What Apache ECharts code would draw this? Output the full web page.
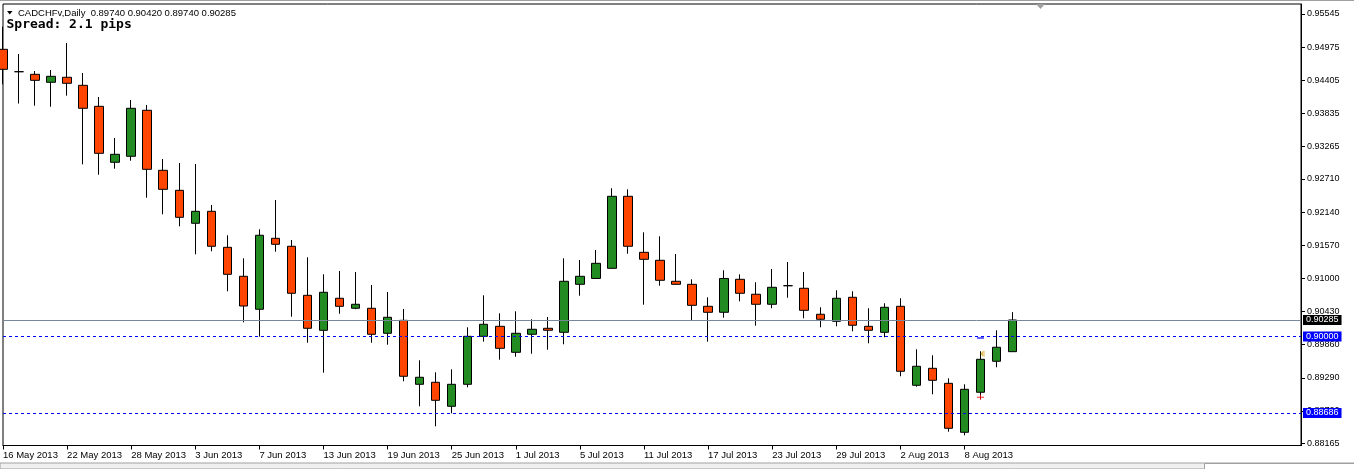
<!DOCTYPE html>
<html><head><meta charset="utf-8">
<script src="https://cdn.jsdelivr.net/npm/echarts@6/dist/echarts.min.js"></script>
<style>html,body{margin:0;padding:0;background:#fff;overflow:hidden}#c{width:1354px;height:469px}</style>
</head><body><div id="c"></div>
<script>
// ---- data ----
const symbolName = 'CADCHFv,Daily';
const spreadText = 'Spread: 2.1 pips';
const dates = ['16 May 2013','17 May 2013','20 May 2013','21 May 2013','22 May 2013','23 May 2013','24 May 2013','27 May 2013','28 May 2013','29 May 2013','30 May 2013','31 May 2013',
  '3 Jun 2013','4 Jun 2013','5 Jun 2013','6 Jun 2013','7 Jun 2013','10 Jun 2013','11 Jun 2013','12 Jun 2013','13 Jun 2013','14 Jun 2013','17 Jun 2013','18 Jun 2013','19 Jun 2013','20 Jun 2013','21 Jun 2013','24 Jun 2013','25 Jun 2013','26 Jun 2013','27 Jun 2013','28 Jun 2013',
  '1 Jul 2013','2 Jul 2013','3 Jul 2013','4 Jul 2013','5 Jul 2013','8 Jul 2013','9 Jul 2013','10 Jul 2013','11 Jul 2013','12 Jul 2013','15 Jul 2013','16 Jul 2013','17 Jul 2013','18 Jul 2013','19 Jul 2013','22 Jul 2013','23 Jul 2013','24 Jul 2013','25 Jul 2013','26 Jul 2013','29 Jul 2013','30 Jul 2013','31 Jul 2013',
  '1 Aug 2013','2 Aug 2013','5 Aug 2013','6 Aug 2013','7 Aug 2013','8 Aug 2013','9 Aug 2013','12 Aug 2013','13 Aug 2013'];
const opens = [0.94938,0.94553,0.94508,0.94371,0.94457,0.94319,0.93958,0.92996,0.93099,0.93890,0.92858,0.92514,
  0.91947,0.92153,0.91534,0.91036,0.90469,0.91689,0.91552,0.90709,0.90107,0.90658,0.90486,0.90486,0.90056,0.90279,0.89179,0.89214,0.88801,0.89179,0.90004,0.90176,
  0.89729,0.90039,0.90142,0.90073,0.90898,0.90999,0.91173,0.92411,0.91448,0.91311,0.90950,0.90898,0.90520,0.90417,0.90984,0.90727,0.90555,0.90874,0.90830,0.90383,0.90262,0.90675,0.90176,
  0.90073,0.90520,0.89162,0.89454,0.89196,0.88354,0.89042,0.89575,0.89740];
const highs = [0.95327,0.94857,0.94565,0.94582,0.95046,0.94531,0.94118,0.93413,0.94067,0.93981,0.93052,0.92984,
  0.92966,0.92262,0.91741,0.91345,0.91844,0.92347,0.91660,0.91363,0.91070,0.91127,0.91110,0.90886,0.90766,0.90474,0.89592,0.89385,0.89437,0.90159,0.90709,0.90400,
  0.90434,0.90297,0.90336,0.91345,0.91316,0.91488,0.92549,0.92531,0.91792,0.91723,0.91419,0.90984,0.90675,0.91139,0.91070,0.90933,0.91161,0.91282,0.91110,0.90503,0.90795,0.90778,0.90486,
  0.90572,0.90658,0.89781,0.89678,0.89282,0.89179,0.89747,0.90107,0.90420];
const lows = [0.94336,0.94006,0.93969,0.93951,0.94141,0.92961,0.92782,0.92886,0.93023,0.92387,0.92102,0.91895,
  0.91414,0.91466,0.90778,0.90245,0.89998,0.91459,0.90341,0.89894,0.89379,0.90393,0.90470,0.89894,0.89860,0.89231,0.88801,0.88457,0.88681,0.89128,0.89912,0.89602,
  0.89654,0.89705,0.89774,0.89867,0.90702,0.90990,0.91165,0.91424,0.90548,0.90874,0.90890,0.90279,0.89912,0.90324,0.90606,0.90187,0.90486,0.90668,0.90314,0.90159,0.90176,0.90090,0.89884,
  0.89987,0.89317,0.89138,0.89007,0.88364,0.88302,0.88921,0.89472,0.89740];
const closes = [0.94594,0.94553,0.94405,0.94474,0.94354,0.93924,0.93150,0.93133,0.93924,0.92875,0.92531,0.92050,
  0.92153,0.91552,0.91070,0.90525,0.91741,0.91586,0.90744,0.90142,0.90761,0.90520,0.90555,0.90039,0.90331,0.89317,0.89300,0.88904,0.89179,0.90004,0.90211,0.89798,
  0.90056,0.90125,0.90108,0.90950,0.91036,0.91259,0.92411,0.91552,0.91328,0.90967,0.90898,0.90537,0.90417,0.90999,0.90744,0.90555,0.90847,0.90874,0.90451,0.90297,0.90658,0.90194,0.90108,
  0.90503,0.89403,0.89489,0.89248,0.88423,0.89093,0.89609,0.89816,0.90285];
const yTicks = [0.95545,0.94975,0.94405,0.93835,0.93265,0.92710,0.92140,0.91570,0.91000,0.90430,0.89860,0.89290,0.88720,0.88165];
const bidPrice = 0.90285;
const levelPrices = [0.90000, 0.88686];
const orderMarkDate = '9 Aug 2013';
const orderMarkPrices = [0.89975, 0.89703, 0.88956];

// ---- layout / style ----
const FONT = 'Liberation Sans, Arial, sans-serif';
const yMin = 0.88127, yMax = 0.95717;
const lastIdx = dates.length - 1;
const header = symbolName + '  ' + [opens[lastIdx], highs[lastIdx], lows[lastIdx], closes[lastIdx]].map(v => v.toFixed(5)).join(' ');

const chart = echarts.init(document.getElementById('c'), null, {renderer: 'canvas'});
const labelBox = (bg) => ({
  show: true, position: 'end', distance: 2, formatter: p => Number(p.value).toFixed(5),
  backgroundColor: bg, color: '#fff', padding: [1, 3, 0, 3], fontSize: 9, fontFamily: FONT
});
const markIdx = dates.indexOf(orderMarkDate);
const markSymbols = [
  {symbol: 'rect', symbolSize: [7, 1.5], color: '#0000FF', offset: [0, 0]},
  {symbol: 'path://M0,3L3,0V6Z M3.6,0H5V6H3.6Z', symbolSize: [4, 6], color: '#DAA520', offset: [2, 0]},
  {symbol: 'path://M0,2H7V3H0Z M3,0H4V5H3Z', symbolSize: [7, 5], color: '#FF0000', offset: [0, 0]}
];

chart.setOption({
  animation: false,
  backgroundColor: '#fff',
  grid: {left: 2.5, right: 53, top: 4, bottom: 23.5, show: true, borderColor: '#000', borderWidth: 1, backgroundColor: 'transparent'},
  xAxis: {
    type: 'category', data: dates, boundaryGap: false, max: 81,
    axisLine: {show: true, lineStyle: {color: '#000', width: 1}},
    axisTick: {show: true, length: 4, interval: (i) => i % 4 === 0 && i <= lastIdx, lineStyle: {color: '#000'}},
    axisLabel: {interval: (i) => i % 4 === 0 && i <= lastIdx, align: 'left', margin: 5, color: '#000', fontSize: 9.5, fontFamily: FONT, hideOverlap: false},
    splitLine: {show: false}
  },
  yAxis: {
    type: 'value', position: 'right', min: yMin, max: yMax, scale: true,
    axisLine: {show: true, lineStyle: {color: '#000', width: 1}},
    axisTick: {show: true, length: 4, customValues: yTicks, lineStyle: {color: '#000'}},
    axisLabel: {customValues: yTicks, formatter: v => v.toFixed(5), margin: 6, color: '#000', fontSize: 9, fontFamily: FONT},
    splitLine: {show: false}
  },
  series: [{
    type: 'candlestick',
    data: dates.map((d, i) => [opens[i], closes[i], lows[i], highs[i]]),
    barWidth: 9,
    clip: true,
    itemStyle: {color: '#228B22', color0: '#FF4500', borderColor: '#000', borderColor0: '#000', borderColorDoji: '#000', borderWidth: 1},
    emphasis: {disabled: true},
    markLine: {
      silent: true, symbol: 'none', animation: false, precision: 5, emphasis: {disabled: true},
      data: [
        ...levelPrices.map(v => ({yAxis: v, lineStyle: {color: '#0000FF', type: [3, 3], width: 1}, label: labelBox('#0000FF')})),
        {yAxis: bidPrice, lineStyle: {color: '#778899', type: 'solid', width: 1}, label: labelBox('#000')}
      ]
    }
  }, {
    type: 'scatter', silent: true, z: 5,
    data: orderMarkPrices.map((p, k) => ({
      value: [markIdx, p], symbol: markSymbols[k].symbol, symbolSize: markSymbols[k].symbolSize,
      symbolOffset: markSymbols[k].offset, itemStyle: {color: markSymbols[k].color}
    }))
  }],
  graphic: [
    {type: 'rect', shape: {x: 0, y: 0, width: 1354, height: 1}, style: {fill: '#A0A0A0'}, silent: true},
    {type: 'polygon', shape: {points: [[1036, 4], [1045, 4], [1040.5, 9]]}, style: {fill: '#A0A0A0'}, silent: true},
    {type: 'polygon', shape: {points: [[7, 11], [12.5, 11], [9.75, 14.5]]}, style: {fill: '#000'}, silent: true},
    {type: 'text', x: 18, y: 13, style: {text: header, font: '9.5px ' + FONT, fill: '#000', verticalAlign: 'middle'}, silent: true},
    {type: 'text', x: 6.5, y: 24.5, style: {text: spreadText, font: 'bold 13px "DejaVu Sans Mono", monospace', fill: '#000', verticalAlign: 'middle'}, silent: true},
    {type: 'rect', shape: {x: 0, y: 463, width: 1354, height: 6}, style: {fill: '#F0F0F0', stroke: '#A0A0A0', lineWidth: 1}, silent: true},
    {type: 'rect', shape: {x: 1204.5, y: 463.5, width: 150, height: 6}, style: {fill: '#FFFFFF', stroke: '#A0A0A0', lineWidth: 1}, silent: true}
  ]
});
</script></body></html>
